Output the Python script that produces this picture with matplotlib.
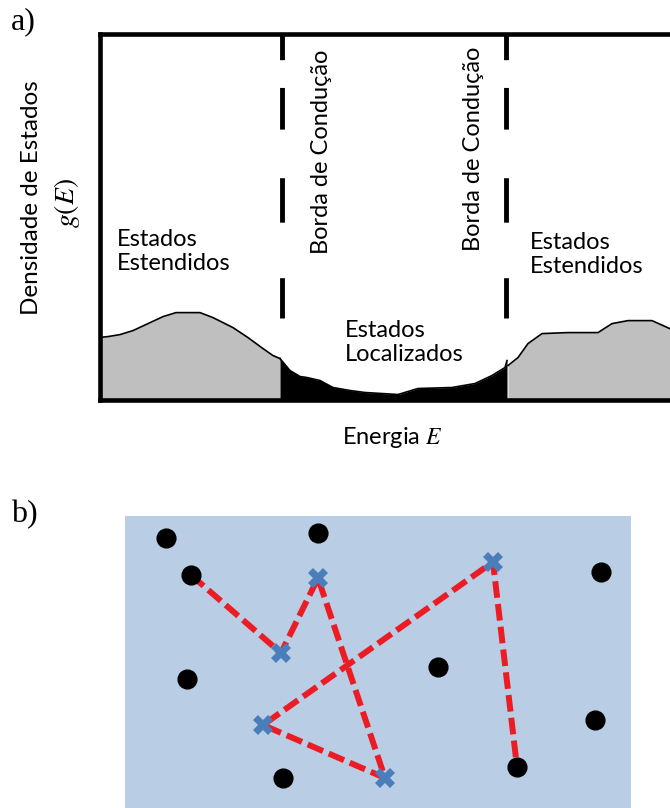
import matplotlib.pyplot as plt
import numpy as np

plt.rcParams['font.family'] = ['Lato', 'DejaVu Sans']
plt.rcParams['mathtext.fontset'] = 'stix'
plt.rcParams['lines.scale_dashes'] = False

# ---- panel a: density of states (arbitrary units)
E_ext_left = [0, 10, 22, 35, 50, 65, 78, 90, 102, 115, 135, 150, 165, 175, 182]
g_ext_left = [63, 64, 66, 70, 77, 84, 88, 88, 88, 83, 73, 63, 52, 45, 42]

E_loc = [182, 192, 202, 209, 222, 235, 252, 267, 300, 320, 354, 377, 394, 407, 409]
g_loc = [42, 30, 24, 23, 20, 13, 10, 8, 6, 12, 13, 17, 25, 33, 40]

E_ext_right = [410, 420, 430, 444, 470, 500, 514, 530, 554, 574]
g_ext_right = [35, 43, 57, 67, 68, 68, 77, 80, 80, 71]

E_edges = [183.5, 408]    # bordas de conducao
g_edge_low = 83
g_top = 367

# ---- panel b: sites and hopping path (arbitrary units)
dots_x = [41, 193, 66, 476, 62, 313, 470, 158, 392]
dots_y = [270, 275, 233, 236, 129, 141, 88, 30, 41]

cross_x = [193, 156, 368, 138, 260]
cross_y = [230, 155, 246, 83, 30]

hop_x = [66, 156, 193, 260, 138, 368, 392]
hop_y = [233, 155, 230, 30, 83, 246, 41]

W, H = 670, 808
fig = plt.figure(figsize=(W / 100, H / 100), dpi=100)

def box(x0, y0, x1, y1):
    # pixel box (top-left origin) -> figure fraction rect
    return [x0 / W, 1 - y1 / H, (x1 - x0) / W, (y1 - y0) / H]

ax = fig.add_axes(box(99.5, 34, 672, 400.5))
ax.set_xlim(1.5, 574)
ax.set_ylim(0, g_top)
ax.set_xticks([])
ax.set_yticks([])
for s in ['left', 'top', 'bottom']:
    ax.spines[s].set_linewidth(3.3)
ax.spines['right'].set_visible(False)

grey = '#bfbfbf'
ax.fill_between(E_ext_left, g_ext_left, 0, color=grey, lw=0)
ax.fill_between(E_ext_right, g_ext_right, 0, color=grey, lw=0)
ax.fill_between(E_loc, g_loc, 0, color='black', lw=0)
ax.plot(E_ext_left, g_ext_left, color='black', lw=1.2)
ax.plot(E_ext_right, g_ext_right, color='black', lw=1.2)
ax.plot(E_loc, g_loc, color='black', lw=1.2)

for e in E_edges:
    ax.plot([e, e], [g_edge_low, g_top + 5], color='black', lw=3.5,
            dashes=(29, 40, 32, 35, 30, 20, 30, 10), solid_capstyle='butt',
            dash_capstyle='butt', clip_on=True)

fs = 17
ax.text(19, 149, 'Estados\nEstendidos', fontsize=fs, ha='left', va='center',
        linespacing=1.2)
ax.text(432, 146, 'Estados\nEstendidos', fontsize=fs, ha='left', va='center',
        linespacing=1.2)
ax.text(247, 58, 'Estados\nLocalizados', fontsize=fs, ha='left', va='center',
        linespacing=1.2)
ax.text(224, 249, 'Borda de Condução', fontsize=fs, rotation=90,
        ha='center', va='center')
ax.text(375, 252, 'Borda de Condução', fontsize=fs, rotation=90,
        ha='center', va='center')

fig.text(32 / W, 1 - 198 / H, 'Densidade de Estados', fontsize=fs + 0.5,
         rotation=90, ha='center', va='center')
fig.text(67 / W, 1 - 203 / H, '$g(E)$', fontsize=20, rotation=90,
         ha='center', va='center')
fig.text(392 / W, 1 - 437 / H, 'Energia $E$', fontsize=fs, ha='center',
         va='center')
fig.text(11 / W, 1 - 22 / H, 'a)', fontsize=23, family='Liberation Serif',
         ha='left', va='center')
fig.text(11 / W, 1 - 515 / H, 'b)', fontsize=23, family='Liberation Serif',
         ha='left', va='center')

# ---- panel b
bx = fig.add_axes(box(125, 516, 631, 808))
bx.set_facecolor('#b9cde5')
bx.set_xlim(0, 506)
bx.set_ylim(0, 292)
bx.set_xticks([])
bx.set_yticks([])
for s in bx.spines.values():
    s.set_visible(False)

bx.plot(hop_x, hop_y, color='#ec1c24', lw=4.3, dashes=(12, 4.5),
        dash_capstyle='butt', zorder=2)
bx.plot(dots_x, dots_y, 'o', color='black', ms=13.5, zorder=3)
bx.plot(cross_x, cross_y, 'X', color='#4a7ebb', ms=14.5, mew=0, zorder=4)

fig.savefig('out.png', dpi=100)
